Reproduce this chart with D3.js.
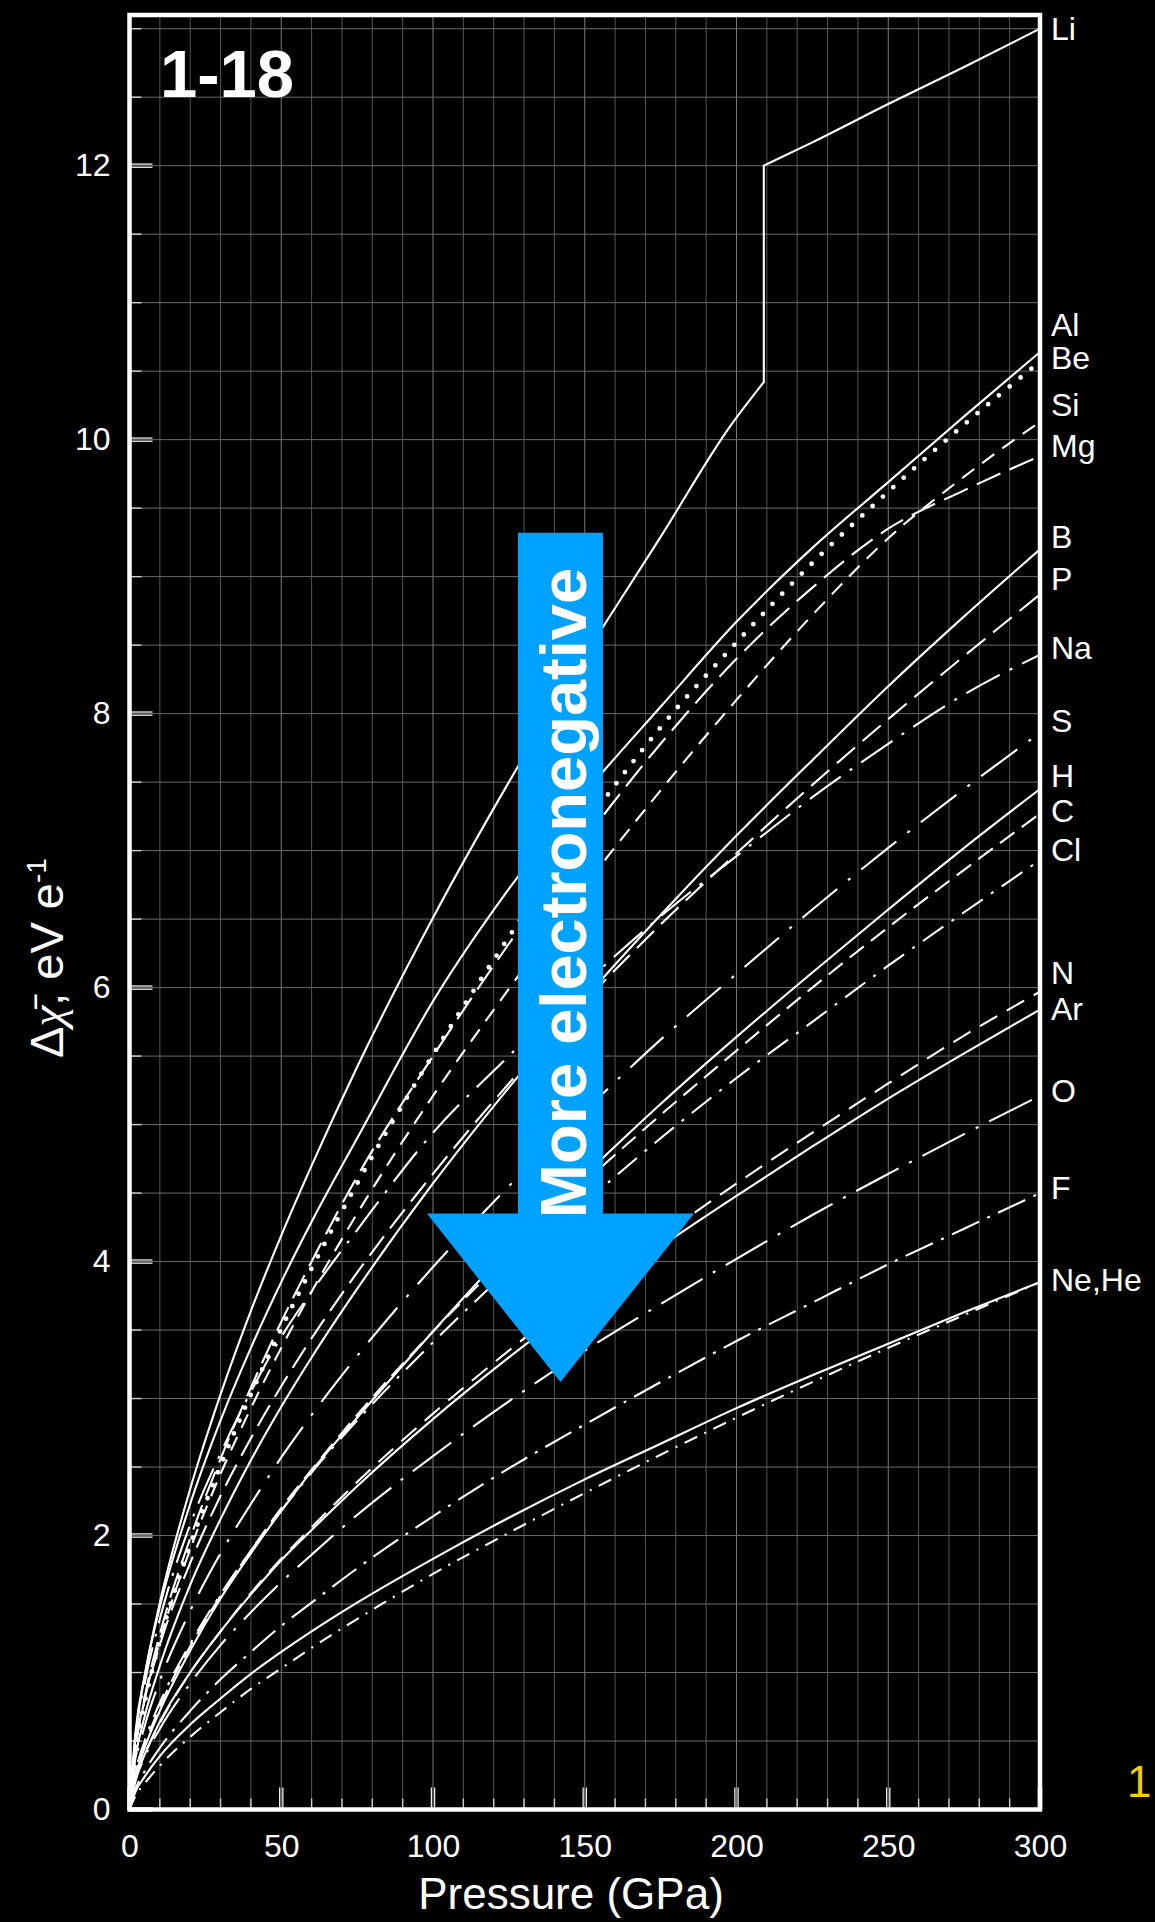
<!DOCTYPE html>
<html>
<head>
<meta charset="utf-8">
<script src="https://cdn.jsdelivr.net/npm/d3@7"></script>
<style>
  html, body { margin: 0; padding: 0; background: #000; }
  svg { display: block; }
  text { font-family: "Liberation Sans", Arial, Helvetica, sans-serif; fill: #fff; }
</style>
</head>
<body>
<svg id="chart" width="1155" height="1922"></svg>
<script>
// Pressure grid (GPa) for every curve except Li
const pressure = [0, 2, 5, 10, 20, 30, 40, 50, 60, 75, 100, 125, 150, 175, 200, 225, 250, 275, 300];

// Li jumps at ~209 GPa (structural transition), so it has its own pressure list
const pressureLi = [0, 2, 5, 10, 20, 30, 40, 50, 60, 75, 100, 125, 150, 175, 198, 209, 209, 225, 250, 275, 300];
const chiLi = [0, 0.54, 0.97, 1.51, 2.34, 3.03, 3.64, 4.19, 4.70, 5.42, 6.51, 7.50, 8.42, 9.29, 10.10, 10.42, 12.0, 12.17, 12.45, 12.72, 13.0];

// Electronegativity change (eV per electron) vs pressure
const chiAl = [0, 0.57, 0.98, 1.48, 2.23, 2.84, 3.37, 3.85, 4.29, 4.90, 5.90, 6.72, 7.42, 8.05, 8.67, 9.21, 9.69, 10.17, 10.64];
const chiBe = [0, 0.43, 0.78, 1.23, 1.93, 2.51, 3.03, 3.51, 3.95, 4.57, 5.51, 6.37, 7.18, 7.90, 8.52, 9.10, 9.62, 10.11, 10.57];
const chiSi = [0, 0.45, 0.80, 1.23, 1.90, 2.45, 2.93, 3.37, 3.78, 4.35, 5.21, 5.99, 6.74, 7.44, 8.10, 8.72, 9.28, 9.73, 10.13];
const chiMg = [0, 0.45, 0.82, 1.28, 1.98, 2.56, 3.08, 3.56, 4.00, 4.62, 5.50, 6.32, 7.08, 7.78, 8.40, 8.92, 9.35, 9.63, 9.88];
const chiB  = [0, 0.38, 0.68, 1.05, 1.64, 2.12, 2.55, 2.94, 3.30, 3.80, 4.57, 5.27, 5.92, 6.53, 7.11, 7.66, 8.20, 8.71, 9.20];
const chiP  = [0, 0.46, 0.80, 1.20, 1.80, 2.29, 2.71, 3.09, 3.44, 3.92, 4.64, 5.30, 5.90, 6.46, 6.98, 7.48, 7.96, 8.42, 8.87];
const chiNa = [0, 0.53, 0.92, 1.39, 2.08, 2.60, 3.05, 3.45, 3.78, 4.23, 4.94, 5.50, 6.03, 6.52, 6.96, 7.39, 7.78, 8.14, 8.43];
const chiS  = [0, 0.34, 0.61, 0.94, 1.45, 1.87, 2.23, 2.57, 2.88, 3.31, 3.96, 4.55, 5.10, 5.62, 6.10, 6.57, 7.02, 7.45, 7.86];
const chiH  = [0, 0.24, 0.45, 0.72, 1.16, 1.54, 1.87, 2.18, 2.47, 2.86, 3.49, 4.09, 4.63, 5.15, 5.64, 6.11, 6.57, 7.02, 7.45];
const chiC  = [0, 0.26, 0.47, 0.75, 1.19, 1.56, 1.89, 2.20, 2.48, 2.88, 3.49, 4.05, 4.58, 5.07, 5.54, 6.00, 6.44, 6.86, 7.27];
const chiCl = [0, 0.27, 0.50, 0.78, 1.21, 1.57, 1.89, 2.18, 2.46, 2.84, 3.41, 3.94, 4.43, 4.90, 5.34, 5.75, 6.16, 6.55, 6.93];
const chiN  = [0, 0.22, 0.40, 0.63, 1.00, 1.30, 1.58, 1.83, 2.06, 2.39, 2.89, 3.35, 3.78, 4.18, 4.57, 4.94, 5.30, 5.65, 5.97];
const chiAr = [0, 0.22, 0.40, 0.64, 1.00, 1.30, 1.57, 1.82, 2.04, 2.36, 2.85, 3.30, 3.72, 4.11, 4.48, 4.84, 5.19, 5.52, 5.84];
const chiO  = [0, 0.21, 0.38, 0.59, 0.92, 1.20, 1.44, 1.66, 1.86, 2.15, 2.58, 2.98, 3.35, 3.69, 4.02, 4.34, 4.64, 4.93, 5.21];
const chiF  = [0, 0.15, 0.28, 0.45, 0.72, 0.95, 1.15, 1.34, 1.51, 1.76, 2.14, 2.49, 2.81, 3.12, 3.42, 3.70, 3.98, 4.24, 4.50];
const chiNe = [0, 0.13, 0.24, 0.39, 0.62, 0.81, 0.99, 1.15, 1.30, 1.51, 1.83, 2.13, 2.41, 2.67, 2.93, 3.17, 3.40, 3.63, 3.85];
const chiHe = [0, 0.10, 0.19, 0.32, 0.53, 0.71, 0.88, 1.03, 1.18, 1.39, 1.72, 2.02, 2.31, 2.59, 2.86, 3.12, 3.37, 3.61, 3.85];

// Right-hand element labels and the value each one sits at
const labelNames = ["Li", "Al", "Be", "Si", "Mg", "B", "P", "Na", "S", "H", "C", "Cl", "N", "Ar", "O", "F", "Ne,He"];
const labelAt    = [13.0, 10.84, 10.60, 10.26, 9.96, 9.29, 8.99, 8.48, 7.95, 7.55, 7.29, 7.01, 6.11, 5.85, 5.25, 4.54, 3.87];

// Axis ticks
const xTicks = [0, 50, 100, 150, 200, 250, 300];
const yTicks = [0, 2, 4, 6, 8, 10, 12];

// Line style per element (dash pattern)
const styles = {
  Al: null, Be: "dots", Si: "15,10", Mg: "26,10", B: null, P: "24,10",
  Na: "38,11,3,11", S: "45,14,3,14", H: null, C: "18,9", Cl: "25,10,3,10",
  N: "20,11", Ar: null, O: "48,12,3,12", F: "30,9,3,9", Ne: null, He: "14,8,2,8"
};
const series = [
  ["Al", chiAl], ["Be", chiBe], ["Si", chiSi], ["Mg", chiMg], ["B", chiB], ["P", chiP],
  ["Na", chiNa], ["S", chiS], ["H", chiH], ["C", chiC], ["Cl", chiCl], ["N", chiN],
  ["Ar", chiAr], ["O", chiO], ["F", chiF], ["Ne", chiNe], ["He", chiHe]
];

const svg = d3.select("#chart");
svg.append("rect").attr("width", 1155).attr("height", 1922).attr("fill", "#000");

const x = d3.scaleLinear().domain([0, 300]).range([129.5, 1040]);
const y = d3.scaleLinear().domain([0, 13.1]).range([1809.5, 15]);

// Grid
const grid = svg.append("g");
grid.selectAll("line.v").data(d3.range(10, 300, 10)).join("line")
  .attr("x1", d => x(d)).attr("x2", d => x(d))
  .attr("y1", y(0)).attr("y2", y(13.1))
  .attr("stroke", d => d % 50 === 0 ? "#7a7a7a" : "#555").attr("stroke-width", 1);
grid.selectAll("line.h").data(d3.range(0.5, 13.05, 0.5)).join("line")
  .attr("x1", x(0)).attr("x2", x(300))
  .attr("y1", d => y(d)).attr("y2", d => y(d))
  .attr("stroke", "#6a6a6a").attr("stroke-width", 1);

// Inner ticks: short minor ticks, longer doubled major ticks
const ticks = svg.append("g");
d3.range(0.5, 13.05, 0.5).filter(v => !yTicks.includes(v)).forEach(v => {
  ticks.append("line").attr("x1", x(0)).attr("x2", x(0) + 12)
    .attr("y1", y(v)).attr("y2", y(v)).attr("stroke", "#cfcfcf").attr("stroke-width", 1.4);
});
yTicks.forEach(v => {
  [-1.6, 1.6].forEach(o => ticks.append("line").attr("x1", x(0)).attr("x2", x(0) + 23)
    .attr("y1", y(v) + o).attr("y2", y(v) + o).attr("stroke", "#eee").attr("stroke-width", 1.3));
});
d3.range(10, 300, 10).filter(p => !xTicks.includes(p)).forEach(p => {
  ticks.append("line").attr("x1", x(p)).attr("x2", x(p))
    .attr("y1", y(0)).attr("y2", y(0) - 11).attr("stroke", "#cfcfcf").attr("stroke-width", 1.4);
});
xTicks.forEach(p => {
  [-1.6, 1.6].forEach(o => ticks.append("line").attr("x1", x(p) + o).attr("x2", x(p) + o)
    .attr("y1", y(0)).attr("y2", y(0) - 22).attr("stroke", "#eee").attr("stroke-width", 1.3));
});

// Curves
svg.append("clipPath").attr("id", "plotClip").append("rect")
  .attr("x", x(0)).attr("y", y(13.1)).attr("width", x(300) - x(0)).attr("height", y(0) - y(13.1));
const curves = svg.append("g").attr("clip-path", "url(#plotClip)");
const lineGen = d3.line().x(d => x(d[0])).y(d => y(d[1])).curve(d3.curveMonotoneX);

series.forEach(([name, vals]) => {
  const pts = pressure.map((p, i) => [p, vals[i]]);
  const st = styles[name];
  const path = curves.append("path").datum(pts).attr("d", lineGen)
    .attr("fill", "none").attr("stroke", "#fff");
  if (st === "dots") {
    path.attr("stroke-width", 4.8).attr("stroke-linecap", "round").attr("stroke-dasharray", "0,14");
  } else {
    path.attr("stroke-width", 2.1);
    if (st) path.attr("stroke-dasharray", st);
  }
});

// Li: split at the repeated pressure and join with a vertical step
const liPts = pressureLi.map((p, i) => [p, chiLi[i]]);
const cut = liPts.findIndex((d, i) => i > 0 && d[0] === liPts[i - 1][0]);
const liLow = liPts.slice(0, cut), liHigh = liPts.slice(cut);
const liD = lineGen(liLow) + "L" + lineGen(liHigh).slice(1);
curves.append("path").attr("d", liD).attr("fill", "none").attr("stroke", "#fff").attr("stroke-width", 2.1);

// Frame
svg.append("rect").attr("x", x(0)).attr("y", y(13.1))
  .attr("width", x(300) - x(0)).attr("height", y(0) - y(13.1))
  .attr("fill", "none").attr("stroke", "#fff").attr("stroke-width", 4.5);

// Axis labels
const yAxis = svg.append("g").attr("transform", `translate(${x(0)},0)`)
  .call(d3.axisLeft(y).tickValues(yTicks).tickSize(0).tickPadding(19).tickFormat(d3.format("d")));
const xAxis = svg.append("g").attr("transform", `translate(0,${y(0)})`)
  .call(d3.axisBottom(x).tickValues(xTicks).tickSize(0).tickPadding(25).tickFormat(d3.format("d")));
[yAxis, xAxis].forEach(a => {
  a.select(".domain").remove();
  a.selectAll("text").attr("fill", "#fff").style("font-size", "32px")
    .style("font-family", '"Liberation Sans", Arial, sans-serif');
});

svg.append("text").attr("x", 571).attr("y", 1909).attr("text-anchor", "middle")
  .style("font-size", "44px").text("Pressure (GPa)");

const yl = svg.append("text").attr("transform", "translate(63,958) rotate(-90)")
  .attr("text-anchor", "middle").style("font-size", "47px");
yl.append("tspan").text("\u0394");
yl.append("tspan").style("font-family", '"Liberation Serif", "DejaVu Serif", serif')
  .style("font-style", "italic").text("\u03C7\u0304");
yl.append("tspan").text(", eV e");
yl.append("tspan").attr("dy", -17).style("font-size", "28px").text("-1");

// Panel tag
svg.append("text").attr("x", 160).attr("y", 97).style("font-size", "67px")
  .style("font-weight", "bold").text("1-18");

// Element labels beside the right edge
svg.append("g").selectAll("text").data(labelNames).join("text")
  .attr("x", x(300) + 11)
  .attr("y", (d, i) => y(labelAt[i]) + 11.5)
  .style("font-size", "32px").text(d => d);

// Trend arrow (in data coordinates)
const arrow = { shaftLeft: 128, shaftRight: 156, top: 9.32, headTop: 4.35, headLeft: 98, headRight: 186, tipP: 142, tipV: 3.12 };
const arrowPts = [
  [arrow.shaftLeft, arrow.top], [arrow.shaftRight, arrow.top], [arrow.shaftRight, arrow.headTop],
  [arrow.headRight, arrow.headTop], [arrow.tipP, arrow.tipV], [arrow.headLeft, arrow.headTop],
  [arrow.shaftLeft, arrow.headTop]
];
svg.append("polygon")
  .attr("points", arrowPts.map(d => `${x(d[0])},${y(d[1])}`).join(" "))
  .attr("fill", "#00a2ff");
svg.append("text")
  .attr("transform", `translate(${x(150.4)},${y(6.69)}) rotate(-90)`)
  .attr("text-anchor", "middle").style("font-size", "65px").style("font-weight", "bold")
  .text("More electronegative");

// Page number at lower right
svg.append("text").attr("x", 1127).attr("y", 1797).style("font-size", "44px")
  .style("fill", "#f2cf00").text("1");
</script>
</body>
</html>
